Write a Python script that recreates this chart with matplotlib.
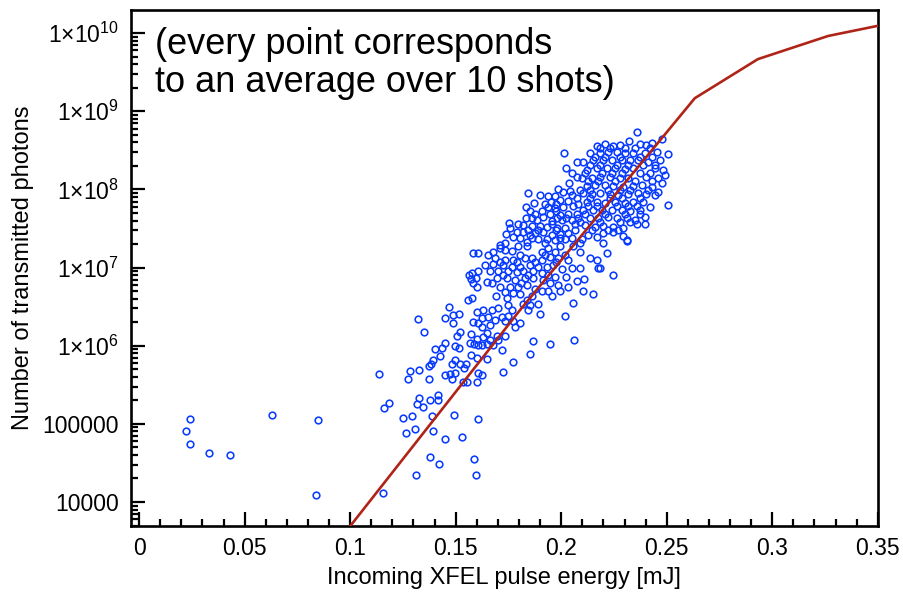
import numpy as np
import matplotlib
matplotlib.use("Agg")
import matplotlib.pyplot as plt
from matplotlib.ticker import FixedLocator, LogLocator, MultipleLocator, FuncFormatter

plt.rcParams['font.family'] = ['Liberation Sans', 'DejaVu Sans']
plt.rcParams['mathtext.fontset'] = 'custom'
plt.rcParams['mathtext.rm'] = 'Liberation Sans'
plt.rcParams['mathtext.it'] = 'Liberation Sans'

# pulse energy [mJ] and log10(transmitted photons), one entry per 10-shot average
energy = [
    0.022, 0.024, 0.024, 0.033, 0.043, 0.063, 0.085, 0.084,
    0.1160, 0.1185, 0.1157, 0.1252, 0.1294, 0.1265, 0.1307, 0.1326, 0.1318, 0.1346,
    0.1378, 0.1415, 0.1417, 0.1386, 0.1391, 0.1380, 0.1421, 0.1312, 0.1449, 0.1492,
    0.1530, 0.1585, 0.1595, 0.1607, 0.1536,
    0.1583, 0.1607, 0.1563, 0.1579, 0.1607, 0.1572, 0.1596, 0.1583, 0.1602, 0.1560,
    0.1579, 0.1468, 0.1599, 0.1320, 0.1448, 0.1486, 0.1517, 0.1489, 0.1580, 0.1607,
    0.1351, 0.1520, 0.1505, 0.1571, 0.1602, 0.1568, 0.1588, 0.1607, 0.1451, 0.1495,
    0.1516, 0.1402, 0.1435, 0.1426, 0.1572, 0.1599, 0.1391, 0.1381, 0.1498, 0.1482,
    0.1520, 0.1547, 0.1541, 0.1138, 0.1283, 0.1328, 0.1373, 0.1449, 0.1473, 0.1497,
    0.1481, 0.1273, 0.1375, 0.1607, 0.1555, 0.1599,
    0.1678, 0.1710, 0.1733, 0.1765, 0.1796, 0.1836, 0.1907, 0.1938, 0.1970, 0.1994,
    0.2057, 0.2089, 0.1686, 0.1733, 0.1773, 0.1828, 0.1860, 0.1907, 0.1947, 0.1986,
    0.2033, 0.2136, 0.2168, 0.1639, 0.1678, 0.1725, 0.1765, 0.1804, 0.1852, 0.1891,
    0.1931, 0.1962, 0.2002, 0.2049, 0.2089, 0.2175, 0.1662, 0.1702, 0.1749, 0.1789,
    0.1820, 0.1867, 0.1907, 0.1970, 0.2022, 0.1647, 0.1694, 0.1741, 0.1781, 0.1828,
    0.1867, 0.1915, 0.1986, 0.2033, 0.2073, 0.2109, 0.1710, 0.1757, 0.1796, 0.1836,
    0.1875, 0.1907, 0.1938, 0.1994, 0.2104, 0.2152, 0.1733, 0.1773, 0.1804, 0.1741,
    0.1836, 0.1749, 0.1820, 0.1852, 0.1891, 0.2054, 0.1631, 0.1670, 0.1702, 0.1765,
    0.1844, 0.1899, 0.2018, 0.1623, 0.1654, 0.1718, 0.1749, 0.1686, 0.1733, 0.1773,
    0.1804, 0.1662, 0.1781, 0.1623, 0.1647, 0.1694, 0.1733, 0.1631, 0.1662, 0.1702,
    0.1623, 0.1647, 0.1678, 0.1867, 0.1947, 0.2062, 0.1718, 0.1852, 0.1650, 0.1773,
    0.1722, 0.1623,
    0.2013, 0.2022, 0.2073, 0.2049, 0.2038, 0.2073, 0.1841, 0.1986, 0.2010, 0.2041,
    0.1938, 0.1970, 0.2073, 0.1872, 0.1951, 0.1994, 0.2033, 0.1833, 0.1938, 0.1970,
    0.2010, 0.2057, 0.1875, 0.1947, 0.1994, 0.2033, 0.2073, 0.1833, 0.1886, 0.1915,
    0.1955, 0.2002, 0.2049, 0.1754, 0.1820, 0.1860, 0.1899, 0.1931, 0.1978, 0.2018,
    0.1757, 0.1738, 0.1789, 0.1820, 0.1875, 0.1915, 0.1955, 0.1994, 0.2033, 0.1773,
    0.1852, 0.1931, 0.1970, 0.2018, 0.1836, 0.1891, 0.1710,
    0.2360, 0.2476, 0.2322, 0.2207, 0.2168, 0.2246, 0.2278, 0.2373, 0.2404, 0.2428,
    0.2507, 0.2136, 0.2183, 0.2223, 0.2262, 0.2302, 0.2341, 0.2396, 0.2452, 0.2104,
    0.2152, 0.2199, 0.2239, 0.2286, 0.2325, 0.2365, 0.2412, 0.2468, 0.2120, 0.2168,
    0.2215, 0.2254, 0.2302, 0.2341, 0.2444, 0.2483, 0.2097, 0.2144, 0.2183, 0.2231,
    0.2278, 0.2317, 0.2404, 0.2459, 0.2491, 0.2120, 0.2160, 0.2207, 0.2246, 0.2294,
    0.2341, 0.2381, 0.2428, 0.2476, 0.2104, 0.2144, 0.2183, 0.2231, 0.2270, 0.2317,
    0.2365, 0.2404, 0.2459, 0.2120, 0.2168, 0.2207, 0.2254, 0.2302, 0.2341, 0.2388,
    0.2444, 0.2507, 0.2104, 0.2152, 0.2191, 0.2239, 0.2286, 0.2325, 0.2373, 0.2420,
    0.2136, 0.2175, 0.2223, 0.2262, 0.2310, 0.2349, 0.2396, 0.2112, 0.2160, 0.2199,
    0.2246, 0.2294, 0.2357, 0.2396, 0.2128, 0.2199, 0.2246, 0.2294, 0.2310, 0.2097,
    0.2168,
    0.2196, 0.2313, 0.2218, 0.2183, 0.2246,
    # densest part of the cloud
    0.2183, 0.2231, 0.2302, 0.2349, 0.2420, 0.2160, 0.2207, 0.2278, 0.2373, 0.2430,
    0.2136, 0.2183, 0.2263, 0.2315, 0.2386, 0.2444, 0.2112, 0.2193, 0.2241, 0.2288,
    0.2373, 0.2420, 0.2126, 0.2174, 0.2254, 0.2349, 0.2430, 0.2089, 0.2136, 0.2221,
    0.2278, 0.2325, 0.2411, 0.2136, 0.2231, 0.2288, 0.2373, 0.2126, 0.2169, 0.2264,
    0.2316, 0.2359, 0.2112, 0.2207, 0.2302, 0.2373, 0.2089, 0.2183, 0.2278, 0.2325,
    0.2146, 0.2221, 0.2269,
    0.1899, 0.2051, 0.1923, 0.1975, 0.2079, 0.1852, 0.1909, 0.1975, 0.1861, 0.1980,
    0.2022, 0.2079, 0.1795, 0.1956, 0.2065, 0.1842, 0.1890, 0.1975, 0.2065, 0.1804,
    0.1861, 0.1994, 0.2051, 0.1733, 0.1923, 0.2089,
    0.1653, 0.1804, 0.1923, 0.2018, 0.1710, 0.1790, 0.1875, 0.1975, 0.1724, 0.1842,
    0.1937, 0.1672, 0.1809, 0.1947, 0.1691, 0.1861, 0.1956,
]
log_photons = [
    4.91, 5.06, 4.74, 4.63, 4.60, 5.11, 5.05, 4.09,
    5.20, 5.27, 4.11, 5.08, 5.10, 4.88, 4.94, 5.33, 5.25, 5.22,
    5.30, 5.37, 5.30, 5.10, 4.91, 4.58, 4.49, 4.35, 4.80, 5.11,
    4.83, 4.55, 4.35, 5.06, 5.53,
    7.19, 7.19, 6.91, 6.93, 6.95, 6.85, 6.86, 6.80, 6.75, 6.58,
    6.61, 6.49, 6.43, 6.34, 6.35, 6.39, 6.40, 6.29, 6.30, 6.29,
    6.18, 6.18, 6.13, 6.15, 6.09, 6.04, 6.02, 6.01, 6.04, 6.00,
    5.97, 5.96, 5.97, 5.87, 5.88, 5.84, 5.82, 5.77, 5.82, 5.77,
    5.77, 5.77, 5.72, 5.64, 5.68, 5.69, 5.74, 5.62, 5.64, 5.65,
    5.58, 5.57, 5.57, 5.65, 5.53, 5.54,
    7.20, 7.25, 7.22, 7.21, 7.27, 7.27, 7.20, 7.25, 7.20, 7.27,
    7.27, 7.20, 7.12, 7.10, 7.10, 7.12, 7.12, 7.10, 7.14, 7.12,
    7.10, 7.12, 7.10, 7.03, 7.05, 7.03, 7.01, 7.01, 7.03, 7.01,
    7.01, 7.03, 6.98, 7.00, 7.00, 7.00, 6.95, 6.96, 6.95, 6.94,
    6.95, 6.96, 6.93, 6.88, 6.88, 6.82, 6.86, 6.86, 6.84, 6.86,
    6.86, 6.84, 6.78, 6.75, 6.83, 6.85, 6.75, 6.75, 6.75, 6.78,
    6.73, 6.70, 6.70, 6.70, 6.70, 6.66, 6.69, 6.67, 6.66, 6.61,
    6.58, 6.52, 6.53, 6.52, 6.53, 6.55, 6.46, 6.46, 6.48, 6.46,
    6.46, 6.40, 6.38, 6.35, 6.37, 6.37, 6.38, 6.33, 6.31, 6.32,
    6.29, 6.26, 6.24, 6.24, 6.16, 6.13, 6.13, 6.11, 6.07, 6.07,
    6.01, 6.02, 6.01, 6.06, 6.02, 6.07, 5.95, 5.89, 5.83, 5.79,
    5.66, 5.62,
    8.47, 8.28, 8.35, 8.21, 8.08, 8.16, 7.96, 8.01, 7.97, 7.98,
    7.91, 7.91, 7.89, 7.82, 7.84, 7.86, 7.85, 7.77, 7.77, 7.76,
    7.77, 7.79, 7.69, 7.69, 7.67, 7.68, 7.69, 7.63, 7.61, 7.65,
    7.59, 7.61, 7.61, 7.57, 7.54, 7.53, 7.53, 7.52, 7.50, 7.51,
    7.50, 7.43, 7.46, 7.45, 7.44, 7.45, 7.42, 7.43, 7.44, 7.39,
    7.42, 7.37, 7.35, 7.37, 7.33, 7.37, 7.29,
    8.73, 8.65, 8.62, 8.58, 8.55, 8.55, 8.57, 8.58, 8.57, 8.59,
    8.45, 8.46, 8.47, 8.48, 8.48, 8.46, 8.47, 8.46, 8.48, 8.35,
    8.38, 8.38, 8.38, 8.37, 8.38, 8.37, 8.35, 8.38, 8.25, 8.27,
    8.27, 8.27, 8.26, 8.27, 8.27, 8.25, 8.14, 8.15, 8.16, 8.16,
    8.15, 8.14, 8.16, 8.14, 8.18, 8.04, 8.06, 8.06, 8.04, 8.03,
    8.04, 8.06, 8.03, 8.08, 7.95, 7.94, 7.96, 7.94, 7.93, 7.94,
    7.95, 7.94, 7.97, 7.84, 7.84, 7.83, 7.84, 7.83, 7.84, 7.84,
    7.93, 7.80, 7.74, 7.74, 7.74, 7.74, 7.74, 7.73, 7.74, 7.77,
    7.64, 7.63, 7.65, 7.63, 7.63, 7.61, 7.65, 7.54, 7.52, 7.53,
    7.52, 7.50, 7.56, 7.56, 7.42, 7.44, 7.46, 7.40, 7.35, 7.37,
    7.39,
    7.31, 7.34, 7.18, 7.00, 6.91,
    # densest part of the cloud
    8.53, 8.53, 8.53, 8.53, 8.53, 8.41, 8.41, 8.41, 8.41, 8.41,
    8.31, 8.31, 8.31, 8.31, 8.31, 8.31, 8.21, 8.21, 8.21, 8.21,
    8.21, 8.21, 8.11, 8.11, 8.11, 8.11, 8.11, 7.99, 7.99, 7.99,
    7.99, 7.99, 7.99, 7.89, 7.89, 7.89, 7.89, 7.79, 7.79, 7.79,
    7.79, 7.79, 7.68, 7.68, 7.68, 7.68, 7.58, 7.58, 7.58, 7.58,
    7.48, 7.48, 7.48,
    7.93, 7.93, 7.81, 7.81, 7.81, 7.72, 7.72, 7.72, 7.63, 7.63,
    7.63, 7.63, 7.56, 7.56, 7.56, 7.48, 7.48, 7.48, 7.48, 7.38,
    7.38, 7.38, 7.38, 7.31, 7.31, 7.31,
    7.16, 7.16, 7.16, 7.16, 7.07, 7.07, 7.07, 7.07, 6.90, 6.90,
    6.90, 6.80, 6.80, 6.80, 6.64, 6.64, 6.64,
]
photons = 10 ** np.array(log_photons)

# model curve
model_energy = [0.1, 0.18, 0.2633, 0.2932, 0.3265, 0.35]
model_photons = [4.9e3, 2.75e6, 1.47e9, 4.65e9, 9.2e9, 1.24e10]

fig = plt.figure(figsize=(9.04, 5.95), dpi=100)
ax = fig.add_axes([0.145, 0.116, 0.826, 0.867])

ax.plot(model_energy, model_photons, color='#b02418', lw=1.9, zorder=3)
ax.plot(energy, photons, 'o', ms=4.8, mfc='none', mec='#0a3cff', mew=1.15,
        zorder=2, clip_on=False)

ax.set_yscale('log')
ax.set_xlim(-0.0038, 0.35)
ax.set_ylim(4.93e3, 1.97e10)

ax.xaxis.set_major_locator(MultipleLocator(0.05))
ax.xaxis.set_minor_locator(MultipleLocator(0.01))
ax.xaxis.set_major_formatter(FuncFormatter(lambda v, p: '0' if abs(v) < 1e-9 else ('%g' % v)))

ax.yaxis.set_major_locator(FixedLocator([1e4, 1e5, 1e6, 1e7, 1e8, 1e9, 1e10]))
ax.yaxis.set_minor_locator(LogLocator(base=10, subs=np.arange(2, 10), numticks=20))


def ylab(v, p):
    e = int(round(np.log10(v)))
    if e <= 5:
        return '%d' % round(v)
    return '1×10$^{%d}$' % e


ax.yaxis.set_major_formatter(FuncFormatter(ylab))

ax.tick_params(which='both', direction='in', top=False, right=False, width=1.6)
ax.tick_params(which='major', length=10, labelsize=16.5)
ax.tick_params(axis='x', which='major', pad=8)
ax.tick_params(axis='y', which='major', pad=9)
ax.tick_params(which='minor', length=5)
for s in ax.spines.values():
    s.set_linewidth(1.9)

ax.set_xlabel('Incoming XFEL pulse energy [mJ]', fontsize=17, labelpad=5)
ax.set_ylabel('Number of transmitted photons', fontsize=17, labelpad=6)

ax.text(0.032, 0.968, '(every point corresponds\nto an average over 10 shots)',
        transform=ax.transAxes, ha='left', va='top', fontsize=26, linespacing=1.12)

fig.savefig('out.png', dpi=100)
